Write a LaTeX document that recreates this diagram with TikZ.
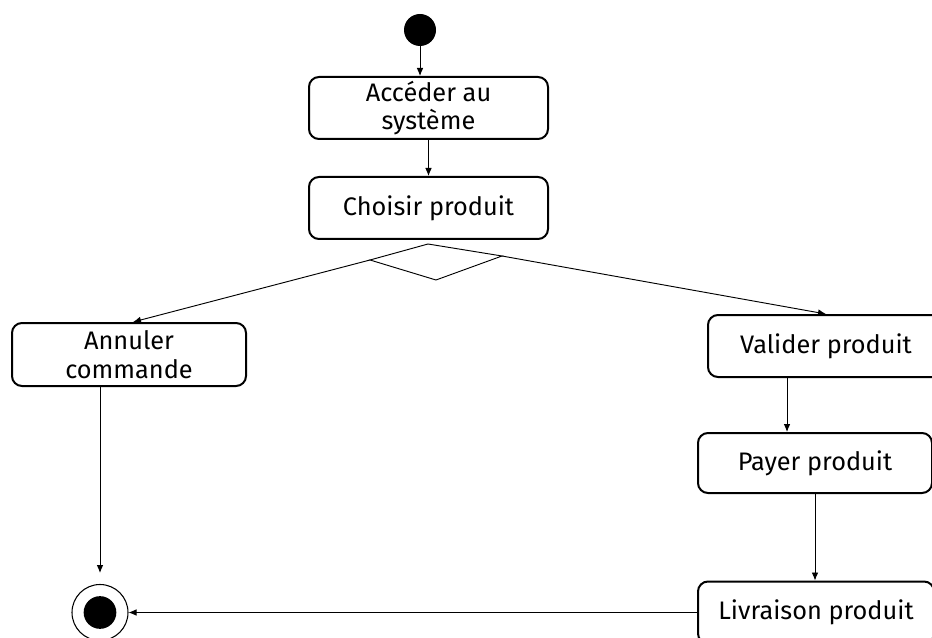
\documentclass[tikz,border=0pt]{standalone}
\usepackage{fontspec}
\setmainfont{Fira Sans}
\usetikzlibrary{arrows.meta,calc}
\tikzset{
  actbox/.style={draw, line width=1.5pt, rounded corners=7.5pt, inner sep=0pt,
    align=center, font=\fontsize{19}{21.5}\selectfont},
  flow/.style={line width=0.7pt, -{Latex[length=6pt,width=5pt]}},
  plain/.style={line width=0.7pt},
}
\begin{document}
\begin{tikzpicture}[x=0.75pt,y=-0.75pt]
  \useasboundingbox (0,0) rectangle (932,638);
  \clip (0,0) rectangle (932,638);

  % initial and final states
  \node[circle, fill=black, minimum size=24pt, inner sep=0pt] (start) at (420,30) {};
  \node[circle, draw, line width=0.8pt, minimum size=42pt, inner sep=0pt] (endc) at (100,612.5) {};
  \node[circle, fill=black, minimum size=24.5pt, inner sep=0pt] (endi) at (100,612.5) {};

  % activities
  \node[actbox, minimum width=179.25pt, minimum height=46.5pt] (acc) at (428.5,108) {Accéder au\\système};
  \node[actbox, minimum width=179.25pt, minimum height=46.5pt] (cho) at (428.5,208) {Choisir produit};
  \node[actbox, minimum width=175.5pt, minimum height=47.25pt] (ann) at (129,354.5) {Annuler\\commande};
  \node[actbox, minimum width=177pt, minimum height=46.5pt] (val) at (826,346) {Valider produit};
  \node[actbox, minimum width=175.5pt, minimum height=45pt] (pay) at (815,463) {Payer produit};
  \node[actbox, minimum width=177pt, minimum height=46.5pt] (livr) at (816,612.5) {Livraison produit};

  % decision
  \coordinate (dT) at (428,244);
  \coordinate (dR) at (502,256);
  \coordinate (dB) at (436,280);
  \coordinate (dL) at (370,260);
  \draw[plain] (dT) -- (dR) -- (dB) -- (dL) -- cycle;

  % flows
  \draw[flow] (start) -- (start |- acc.north);
  \draw[flow] (acc.south) -- (acc.south |- cho.north);
  \draw[flow] (dL) -- ([xshift=3pt]ann.north);
  \draw[flow] (dR) -- (val.north);
  \draw[flow] ([xshift=-29.25pt]val.south) -- ([xshift=-29.25pt]val.south |- pay.north);
  \draw[flow] (pay.south) -- (pay.south |- livr.north);
  \draw[flow] (livr.west) -- (endc.east);
  \coordinate (annEnd) at (100,573);
  \draw[flow] (ann.south -| annEnd) -- (annEnd);
\end{tikzpicture}
\end{document}
